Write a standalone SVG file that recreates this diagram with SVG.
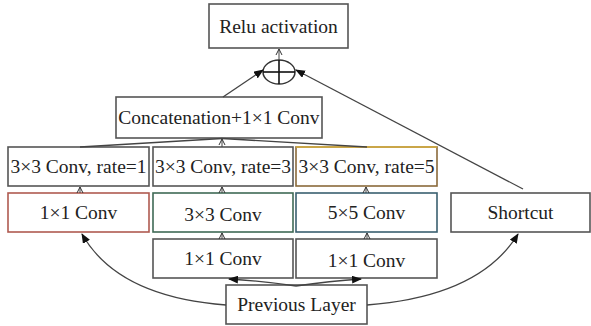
<svg xmlns="http://www.w3.org/2000/svg" width="591" height="326" viewBox="0 0 591 326">
<defs>
<style>
.box{fill:#fff;stroke:#555;stroke-width:1.6}
.t{font-family:'Liberation Serif','DejaVu Serif',serif;font-size:19.5px;fill:#222;text-anchor:middle}
.ln{fill:none;stroke:#444;stroke-width:1.3}
.thin{fill:none;stroke:#444;stroke-width:1}
</style>
<marker id="fa" markerWidth="10" markerHeight="8" refX="9" refY="4" orient="auto" markerUnits="userSpaceOnUse">
<path d="M0,0 L10,4 L0,8 Z" fill="#111"/>
</marker>
<marker id="oa" markerWidth="8" markerHeight="8" refX="7" refY="4" orient="auto" markerUnits="userSpaceOnUse">
<path d="M1,1 L7,4 L1,7" fill="none" stroke="#333" stroke-width="1"/>
</marker>
</defs>

<g id="relu"><rect class="box" x="209" y="4" width="139" height="44"/><text class="t" x="278.5" y="32.5">Relu activation</text></g>
<g id="add"><ellipse cx="279" cy="72" rx="16" ry="12" fill="#fff" stroke="#333" stroke-width="1.5"/><line x1="279" y1="60" x2="279" y2="84" stroke="#111" stroke-width="1.6"/><line x1="263" y1="72" x2="295" y2="72" stroke="#111" stroke-width="1.6"/></g>
<g id="concat"><rect class="box" x="116" y="97" width="206" height="41"/><text class="t" x="219" y="124">Concatenation+1×1 Conv</text></g>
<g id="rate1"><rect class="box" x="8" y="147" width="141" height="39"/><text class="t" x="78.5" y="173">3×3 Conv, rate=1</text></g>
<g id="rate3"><rect class="box" x="153" y="147" width="140" height="39"/><text class="t" x="223" y="173">3×3 Conv, rate=3</text></g>
<g id="rate5"><rect class="box" x="296" y="147" width="141" height="39" style="stroke:#8a6a3a"/><line x1="296" y1="147" x2="437" y2="147" stroke="#d8b040" stroke-width="1.6"/><text class="t" x="366.5" y="173">3×3 Conv, rate=5</text></g>
<g id="conv1a"><rect class="box" x="8" y="193" width="141" height="39" style="stroke:#b05a50"/><text class="t" x="78.5" y="219">1×1 Conv</text></g>
<g id="conv3"><rect class="box" x="153" y="193" width="140" height="39" style="stroke:#3f6a55"/><text class="t" x="223" y="220.5">3×3 Conv</text></g>
<g id="conv5"><rect class="box" x="296" y="193" width="141" height="39" style="stroke:#3a6070"/><text class="t" x="366.5" y="219">5×5 Conv</text></g>
<g id="shortcut"><rect class="box" x="451" y="193" width="139" height="39"/><text class="t" x="520.5" y="219">Shortcut</text></g>
<g id="conv1b"><rect class="box" x="153" y="239" width="140" height="39"/><text class="t" x="223" y="265">1×1 Conv</text></g>
<g id="conv1c"><rect class="box" x="296" y="239" width="141" height="39"/><text class="t" x="366.5" y="266.5">1×1 Conv</text></g>
<g id="prev"><rect class="box" x="226" y="285" width="141" height="39"/><text class="t" x="296.5" y="311">Previous Layer</text></g>

<g id="connectors">
<path class="ln" d="M296,286 Q262,281 229,279" marker-end="url(#fa)"/>
<path class="ln" d="M296,286 Q330,281 361,279" marker-end="url(#fa)"/>
<path class="ln" d="M226,305 C160,300 108,280 82,234" marker-end="url(#fa)"/>
<path class="ln" d="M367,305 C432,300 490,280 518,234" marker-end="url(#fa)"/>
<line class="thin" x1="222" y1="239" x2="222" y2="233" marker-end="url(#oa)"/>
<line class="thin" x1="367" y1="239" x2="367" y2="233" marker-end="url(#oa)"/>
<line class="thin" x1="80" y1="193" x2="80" y2="187" marker-end="url(#oa)"/>
<line class="thin" x1="222" y1="193" x2="222" y2="187" marker-end="url(#oa)"/>
<line class="thin" x1="366" y1="193" x2="366" y2="187" marker-end="url(#oa)"/>
<line class="ln" x1="80" y1="147" x2="222" y2="138.5"/>
<line class="ln" x1="367" y1="147" x2="222" y2="138.5"/>
<line class="thin" x1="222" y1="147" x2="222" y2="139" marker-end="url(#oa)"/>
<line class="ln" x1="223" y1="97" x2="263" y2="70" marker-end="url(#fa)"/>
<line class="ln" x1="523" y1="189" x2="296" y2="70" marker-end="url(#fa)"/>
<line class="thin" x1="279" y1="60" x2="279" y2="49" marker-end="url(#oa)"/>
</g>
</svg>
